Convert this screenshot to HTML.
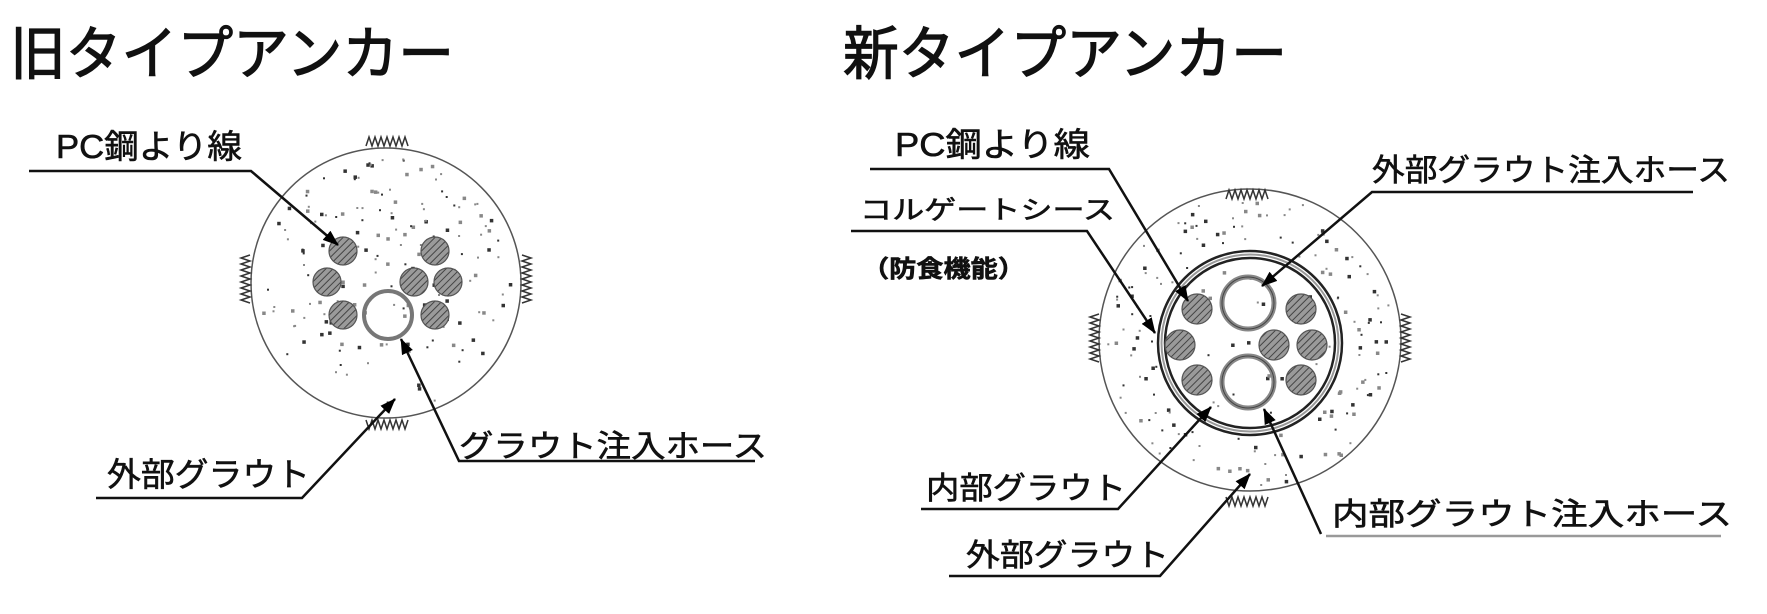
<!DOCTYPE html>
<html><head><meta charset="utf-8"><style>
html,body{margin:0;padding:0;background:#fff;width:1767px;height:614px;overflow:hidden}
svg text{font-family:"Liberation Sans","Noto Sans CJK JP",sans-serif;fill:#111;stroke:#111;stroke-width:0.6}
</style></head><body>
<svg id="s" width="1767" height="614" viewBox="0 0 1767 614" xmlns="http://www.w3.org/2000/svg">
<defs>
<pattern id="h" width="5" height="5" patternUnits="userSpaceOnUse" patternTransform="rotate(45)">
<rect width="5" height="5" fill="#9a9a9a"/><line x1="0" y1="0" x2="0" y2="5" stroke="#444" stroke-width="2"/></pattern>
<marker id="a" markerWidth="16" markerHeight="14" refX="15" refY="7" orient="auto" markerUnits="userSpaceOnUse" viewBox="0 0 16 14">
<path d="M0,1 L16,7 L0,13 Z" fill="#000"/></marker>
</defs>
<text x="10" y="74" font-size="58" textLength="444" lengthAdjust="spacingAndGlyphs" style="stroke-width:1.2">旧タイプアンカー</text>
<text x="843" y="74" font-size="58" textLength="444" lengthAdjust="spacingAndGlyphs" style="stroke-width:1.2">新タイプアンカー</text>

<!-- LEFT -->
<circle cx="386" cy="283" r="135" fill="#fff" stroke="#555" stroke-width="1.5"/>
<g id="dotsL"></g>
<g fill="url(#h)" stroke="#555" stroke-width="1.2">
<circle cx="343" cy="251" r="14"/><circle cx="327" cy="282" r="14"/><circle cx="343" cy="315" r="14"/>
<circle cx="435" cy="251" r="14"/><circle cx="414" cy="282" r="14"/><circle cx="448" cy="282" r="14"/><circle cx="435" cy="315" r="14"/>
</g>
<circle cx="388" cy="315" r="24" fill="none" stroke="#777" stroke-width="4"/>
<g stroke="#333" stroke-width="1.5" fill="none">
<path d="M366,146 l3,-9 3,9 3,-9 3,9 3,-9 3,9 3,-9 3,9 3,-9 3,9 3,-9 3,9 3,-9 3,9"/>
<path d="M366,420 l3,9 3,-9 3,9 3,-9 3,9 3,-9 3,9 3,-9 3,9 3,-9 3,9 3,-9 3,9 3,-9"/>
<path d="M250,255 l-9,3 9,3 -9,3 9,3 -9,3 9,3 -9,3 9,3 -9,3 9,3 -9,3 9,3 -9,3 9,3 -9,3 9,3"/>
<path d="M522,255 l9,3 -9,3 9,3 -9,3 9,3 -9,3 9,3 -9,3 9,3 -9,3 9,3 -9,3 9,3 -9,3 9,3 -9,3"/>
</g>
<text x="56" y="158" font-size="33" textLength="186" lengthAdjust="spacingAndGlyphs">PC鋼より線</text>
<g stroke="#111" stroke-width="2.5" fill="none">
<polyline points="29,171 251,171 338,245" marker-end="url(#a)"/>
<polyline points="96,498 302,498 395,399" marker-end="url(#a)"/>
<polyline points="755,461 459,461 401,339" marker-end="url(#a)"/>
</g>
<text x="107" y="486" font-size="33" textLength="203" lengthAdjust="spacingAndGlyphs">外部グラウト</text>
<text x="459" y="457" font-size="31" textLength="308" lengthAdjust="spacingAndGlyphs">グラウト注入ホース</text>

<!-- RIGHT -->
<circle cx="1250" cy="340" r="151" fill="#fff" stroke="#555" stroke-width="1.5"/>
<g id="dotsR"></g>
<circle cx="1250" cy="343" r="92" fill="#fff" stroke="#222" stroke-width="2.5"/>
<circle cx="1250" cy="343" r="85" fill="none" stroke="#222" stroke-width="2.5"/>
<circle cx="1250" cy="343" r="88.5" fill="none" stroke="#999" stroke-width="2"/>
<g id="dotsI"></g>
<g fill="url(#h)" stroke="#555" stroke-width="1.2">
<circle cx="1197" cy="309" r="15"/><circle cx="1180" cy="345" r="15"/><circle cx="1197" cy="380" r="15"/>
<circle cx="1301" cy="309" r="15"/><circle cx="1274" cy="345" r="15"/><circle cx="1312" cy="345" r="15"/><circle cx="1301" cy="380" r="15"/>
</g>
<g fill="none">
<circle cx="1248" cy="303" r="26" stroke="#888" stroke-width="5"/><circle cx="1248" cy="303" r="26" stroke="#444" stroke-width="1"/>
<circle cx="1248" cy="382" r="26" stroke="#888" stroke-width="5"/><circle cx="1248" cy="382" r="26" stroke="#444" stroke-width="1"/>
</g>
<g stroke="#333" stroke-width="1.5" fill="none">
<path d="M1226,199 l3,-9 3,9 3,-9 3,9 3,-9 3,9 3,-9 3,9 3,-9 3,9 3,-9 3,9 3,-9 3,9"/>
<path d="M1226,497 l3,9 3,-9 3,9 3,-9 3,9 3,-9 3,9 3,-9 3,9 3,-9 3,9 3,-9 3,9 3,-9"/>
<path d="M1099,314 l-9,3 9,3 -9,3 9,3 -9,3 9,3 -9,3 9,3 -9,3 9,3 -9,3 9,3 -9,3 9,3 -9,3 9,3"/>
<path d="M1401,314 l9,3 -9,3 9,3 -9,3 9,3 -9,3 9,3 -9,3 9,3 -9,3 9,3 -9,3 9,3 -9,3 9,3 -9,3"/>
</g>
<g stroke="#111" stroke-width="2.5" fill="none">
<polyline points="870,169 1109,169 1188,301" marker-end="url(#a)"/>
<polyline points="851,231 1087,231 1155,333" marker-end="url(#a)"/>
<polyline points="1693,192 1372,192 1262,286" marker-end="url(#a)"/>
<polyline points="921,509 1118,509 1211,407" marker-end="url(#a)"/>
<polyline points="949,576 1160,576 1250,474" marker-end="url(#a)"/>
<polyline points="1321,534 1264,409" marker-end="url(#a)"/>
</g>
<line x1="1326" y1="536" x2="1721" y2="536" stroke="#999" stroke-width="2.5"/>
<text x="895" y="156" font-size="33" textLength="195" lengthAdjust="spacingAndGlyphs">PC鋼より線</text>
<text x="860" y="219" font-size="26" textLength="255" lengthAdjust="spacingAndGlyphs">コルゲートシース</text>
<text x="862" y="277" font-size="24" font-weight="bold" textLength="163" lengthAdjust="spacingAndGlyphs">（防食機能）</text>
<text x="1372" y="181" font-size="31" textLength="358" lengthAdjust="spacingAndGlyphs">外部グラウト注入ホース</text>
<text x="926" y="499" font-size="31" textLength="200" lengthAdjust="spacingAndGlyphs">内部グラウト</text>
<text x="966" y="566" font-size="31" textLength="203" lengthAdjust="spacingAndGlyphs">外部グラウト</text>
<text x="1332" y="525" font-size="31" textLength="400" lengthAdjust="spacingAndGlyphs">内部グラウト注入ホース</text>
</svg>
<script>
(function(){
var seed=7;function r(){seed=(seed*16807)%2147483647;return seed/2147483647;}
function dots(id,cx,cy,rmin,rmax,n){var g=document.getElementById(id),s="";
for(var i=0;i<n;i++){var a=r()*6.2832,d=Math.sqrt(rmin*rmin+r()*(rmax*rmax-rmin*rmin));
var x=cx+d*Math.cos(a),y=cy+d*Math.sin(a),sz=r()<0.45?3.5:2;
s+='<rect x="'+x.toFixed(1)+'" y="'+y.toFixed(1)+'" width="'+sz+'" height="'+sz+'" fill="'+(r()<0.5?'#333':'#888')+'"/>';}
g.innerHTML=s;}
dots("dotsL",386,283,0,128,170);
dots("dotsR",1250,340,96,146,150);
dots("dotsI",1250,343,0,80,25);
})();
</script>
</body></html>
